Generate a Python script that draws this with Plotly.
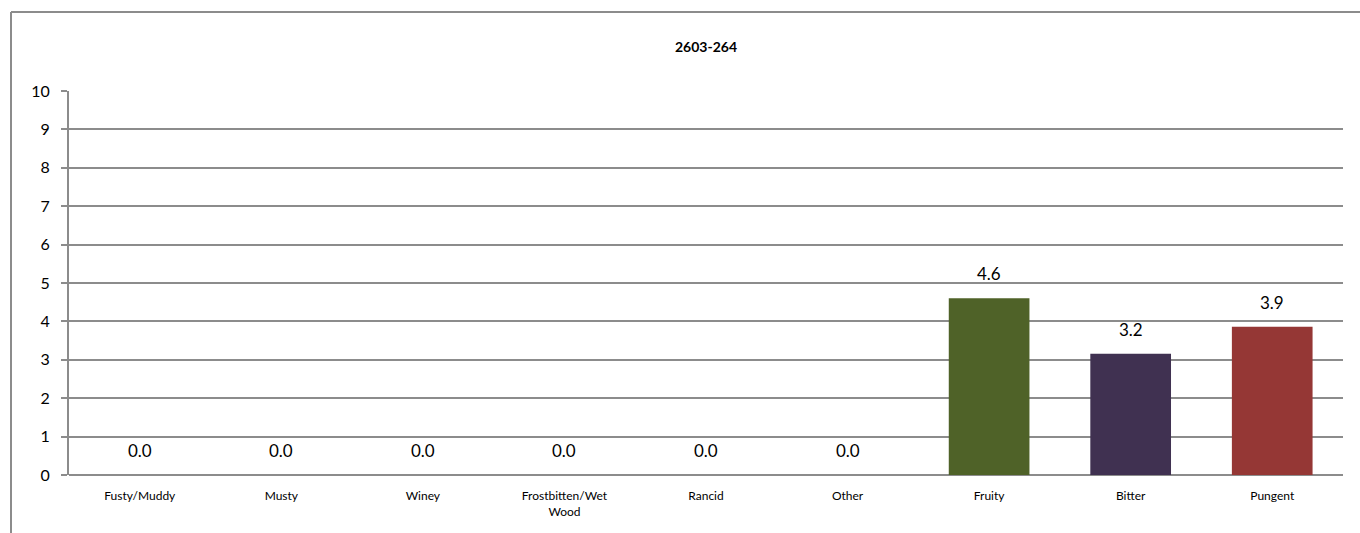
import plotly.graph_objects as go

categories = ["Fusty/Muddy", "Musty", "Winey", "Frostbitten/Wet<br>Wood", "Rancid", "Other", "Fruity", "Bitter", "Pungent"]
values = [0.0, 0.0, 0.0, 0.0, 0.0, 0.0, 4.6, 3.16, 3.86]
colors = ["#4F6228", "#4F6228", "#4F6228", "#4F6228", "#4F6228", "#4F6228", "#4F6228", "#403151", "#953735"]
title = "2603-264"
y_ticks = list(range(0, 11))

W, H = 1360, 533
L, R, T, B = 69, 17, 91, 58
FONT = "Lato, Carlito, Calibri, sans-serif"

fig = go.Figure()
fig.add_trace(go.Bar(
    x=categories, y=values,
    marker=dict(color=colors, line=dict(width=0)),
    width=0.57,
    hoverinfo="x+y",
))

annotations = []
for c, v in zip(categories, values):
    annotations.append(dict(
        x=c, y=v, xref="x", yref="y", text=f"{v:.1f}", showarrow=False,
        yanchor="bottom", yshift=12, font=dict(family=FONT, size=17, color="#000000"),
    ))

pw = W - L - R
ph = H - T - B
fx = lambda px: (px - L) / pw
fy = lambda py: (H - B - py) / ph
shapes = [
    dict(type="line", xref="paper", yref="paper", x0=fx(11), x1=fx(1362), y0=fy(12), y1=fy(12),
         line=dict(color="#8c8c8c", width=2)),
    dict(type="line", xref="paper", yref="paper", x0=fx(11), x1=fx(11), y0=fy(12), y1=fy(540),
         line=dict(color="#8c8c8c", width=2)),
]

fig.update_layout(
    width=W, height=H,
    margin=dict(l=L, r=R, t=T, b=B, pad=0),
    paper_bgcolor="white", plot_bgcolor="white",
    showlegend=False,
    title=dict(text=f"<b>{title}</b>", x=(L + pw / 2) / W, xanchor="center",
               y=1 - 47 / H, yanchor="middle",
               font=dict(family=FONT, size=14, color="#000000")),
    xaxis=dict(
        type="category", showgrid=False, showline=False, ticks="",
        tickfont=dict(family=FONT, size=12, color="#000000"), ticklabelstandoff=12,
        fixedrange=True,
    ),
    yaxis=dict(
        range=[0, 10], tickvals=y_ticks, showgrid=True, gridcolor="#8c8c8c", gridwidth=2,
        showline=True, linecolor="#8c8c8c", linewidth=2, ticks="outside", ticklen=6,
        tickcolor="#8c8c8c", tickwidth=2, zeroline=True, zerolinecolor="#8c8c8c", zerolinewidth=2,
        tickfont=dict(family=FONT, size=16, color="#000000"), ticklabelstandoff=8,
        fixedrange=True,
    ),
    annotations=annotations,
    shapes=shapes,
    bargap=0.43,
)

fig.write_html("out.html")
